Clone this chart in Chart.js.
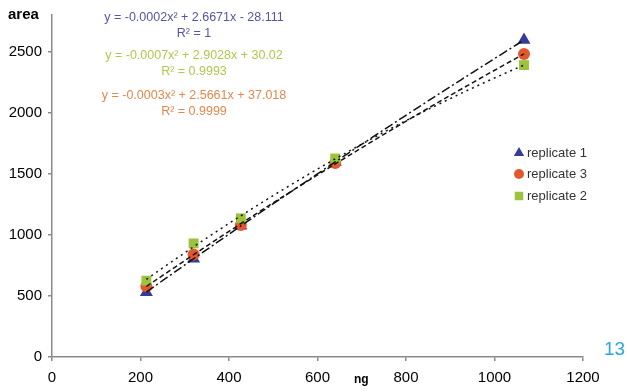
<!DOCTYPE html>
<html>
<head>
<meta charset="utf-8">
<script src="https://cdn.jsdelivr.net/npm/chart.js@4/dist/chart.umd.min.js"></script>
<style>
body { margin: 0; background: #fff; }
#wrap { position: relative; width: 627px; height: 392px; font-family: "Liberation Sans", Arial, sans-serif; }
canvas { position: absolute; left: 0; top: 0; }
.lbl { position: absolute; white-space: nowrap; }
.eq { position: absolute; left: 94px; width: 200px; text-align: center; font-size: 12.5px; line-height: 16px; }
</style>
</head>
<body>
<div id="wrap">
    <canvas id="chart" width="627" height="392"></canvas>
    <div class="lbl" style="left:8px;top:5px;font-weight:bold;font-size:15px;">area</div>
    <div class="lbl" style="left:354px;top:372px;font-weight:bold;font-size:12px;">ng</div>
    <div class="lbl" style="left:604px;top:338px;font-size:19px;color:#2aa6df;">13</div>
    <div class="eq" style="top:9px;color:#5256a3;">y = -0.0002x² + 2.6671x - 28.111<br>R² = 1</div>
    <div class="eq" style="top:47px;color:#b3c64e;">y = -0.0007x² + 2.9028x + 30.02<br>R² = 0.9993</div>
    <div class="eq" style="top:87px;color:#e0884e;">y = -0.0003x² + 2.5661x + 37.018<br>R² = 0.9999</div>
</div>
<script>
// amounts injected (ng) and measured peak areas
const ngAmounts = [213.3, 320, 426.7, 640, 1066.7];
const replicate1 = [530, 805, 1075, 1595, 2595];
const replicate2 = [625, 930, 1135, 1625, 2390];
const replicate3 = [580, 840, 1080, 1588, 2480];

const xTicks = [0, 200, 400, 600, 800, 1000, 1200];
const yTicks = [0, 500, 1000, 1500, 2000, 2500];

const blue = '#333d99';
const orange = '#e2582c';
const green = '#9bc43c';

function points(ys) {
    return ngAmounts.map((x, i) => ({ x: x, y: ys[i] }));
}

// 2nd order least squares fit, like the excel trendline
function quadFit(xs, ys) {
    let s = [0, 0, 0, 0, 0], t = [0, 0, 0];
    for (let i = 0; i < xs.length; i++) {
        let p = 1;
        for (let k = 0; k < 5; k++) { s[k] += p; if (k < 3) t[k] += p * ys[i]; p *= xs[i]; }
    }
    let m = [[s[0], s[1], s[2]], [s[1], s[2], s[3]], [s[2], s[3], s[4]]];
    let det = a => a[0][0] * (a[1][1] * a[2][2] - a[1][2] * a[2][1])
        - a[0][1] * (a[1][0] * a[2][2] - a[1][2] * a[2][0])
        + a[0][2] * (a[1][0] * a[2][1] - a[1][1] * a[2][0]);
    let d = det(m);
    let c = [];
    for (let j = 0; j < 3; j++) {
        let mj = m.map((row, r) => row.map((v, col) => col === j ? t[r] : v));
        c.push(det(mj) / d);
    }
    return c;
}

const trendPlugin = {
    id: 'trend',
    afterDatasetsDraw(chart) {
        const ctx = chart.ctx;
        const xs = chart.scales.x, ys = chart.scales.y;
        const area = chart.chartArea;
        ctx.save();
        ctx.beginPath();
        ctx.rect(area.left, area.top, area.right - area.left, area.bottom - area.top);
        ctx.clip();
        chart.data.datasets.forEach(ds => {
            const c = quadFit(ngAmounts, ds.data.map(p => p.y));
            const x0 = ngAmounts[0], x1 = ngAmounts[ngAmounts.length - 1];
            ctx.beginPath();
            ctx.setLineDash(ds.trendDash);
            ctx.lineWidth = 1.5;
            ctx.strokeStyle = '#111';
            for (let i = 0; i <= 60; i++) {
                const x = x0 + (x1 - x0) * i / 60;
                const y = c[0] + c[1] * x + c[2] * x * x;
                const px = xs.getPixelForValue(x), py = ys.getPixelForValue(y);
                if (i === 0) ctx.moveTo(px, py); else ctx.lineTo(px, py);
            }
            ctx.stroke();
        });
        ctx.restore();
    }
};

const legendPlugin = {
    id: 'boxLegend',
    afterDraw(chart) {
        const ctx = chart.ctx;
        const order = [0, 2, 1];
        const rows = [153, 174, 196];
        ctx.save();
        order.forEach((idx, r) => {
            const ds = chart.data.datasets[idx];
            ctx.fillStyle = ds.backgroundColor;
            ctx.strokeStyle = ds.backgroundColor;
            Chart.helpers.drawPoint(ctx, {
                pointStyle: ds.pointStyle,
                radius: ds.pointStyle === 'circle' ? 5 : 6,
                rotation: 0,
                borderWidth: 0
            }, 519, rows[r]);
            ctx.fillStyle = '#333';
            ctx.font = '13px "Liberation Sans", Arial, sans-serif';
            ctx.textBaseline = 'middle';
            ctx.fillText(ds.label, 527, rows[r]);
        });
        ctx.restore();
    }
};

const tickFont = { size: 15, family: '"Liberation Sans", Arial' };

new Chart(document.getElementById('chart'), {
    type: 'scatter',
    data: {
        datasets: [{
            label: 'replicate 1',
            data: points(replicate1),
            backgroundColor: blue,
            borderColor: blue,
            pointStyle: 'triangle',
            pointRadius: 7.5,
            borderWidth: 0,
            trendDash: [9, 3, 2, 3],
            order: 3
        }, {
            label: 'replicate 2',
            data: points(replicate2),
            backgroundColor: green,
            borderColor: green,
            pointStyle: 'rect',
            pointRadius: 7,
            borderWidth: 0,
            trendDash: [2, 4],
            order: 1
        }, {
            label: 'replicate 3',
            data: points(replicate3),
            backgroundColor: orange,
            borderColor: orange,
            pointStyle: 'circle',
            pointRadius: 6,
            borderWidth: 0,
            trendDash: [5, 3],
            order: 2
        }]
    },
    options: {
        responsive: false,
        animation: false,
        devicePixelRatio: 1,
        layout: { padding: { top: 10, right: 44, left: 0, bottom: 0 } },
        plugins: { legend: { display: false }, tooltip: { enabled: false } },
        scales: {
            x: {
                type: 'linear',
                min: 0,
                max: 1200,
                afterBuildTicks: s => { s.ticks = xTicks.map(v => ({ value: v })); },
                afterFit: s => { s.height = 35; },
                ticks: { color: '#000', font: tickFont, padding: 8, callback: v => String(v) },
                grid: { drawOnChartArea: false, drawTicks: true, tickLength: 4, color: '#8a8a8a', lineWidth: 1.5 },
                border: { color: '#8a8a8a', width: 1.5 }
            },
            y: {
                min: 0,
                max: 2800,
                afterBuildTicks: s => { s.ticks = yTicks.map(v => ({ value: v })); },
                afterFit: s => { s.width = 52; },
                ticks: { color: '#000', font: tickFont, padding: 6, callback: v => String(v) },
                grid: { drawOnChartArea: false, drawTicks: true, tickLength: 4, color: '#8a8a8a', lineWidth: 1.5 },
                border: { color: '#8a8a8a', width: 1.5 }
            }
        }
    },
    plugins: [trendPlugin, legendPlugin]
});
</script>
</body>
</html>
